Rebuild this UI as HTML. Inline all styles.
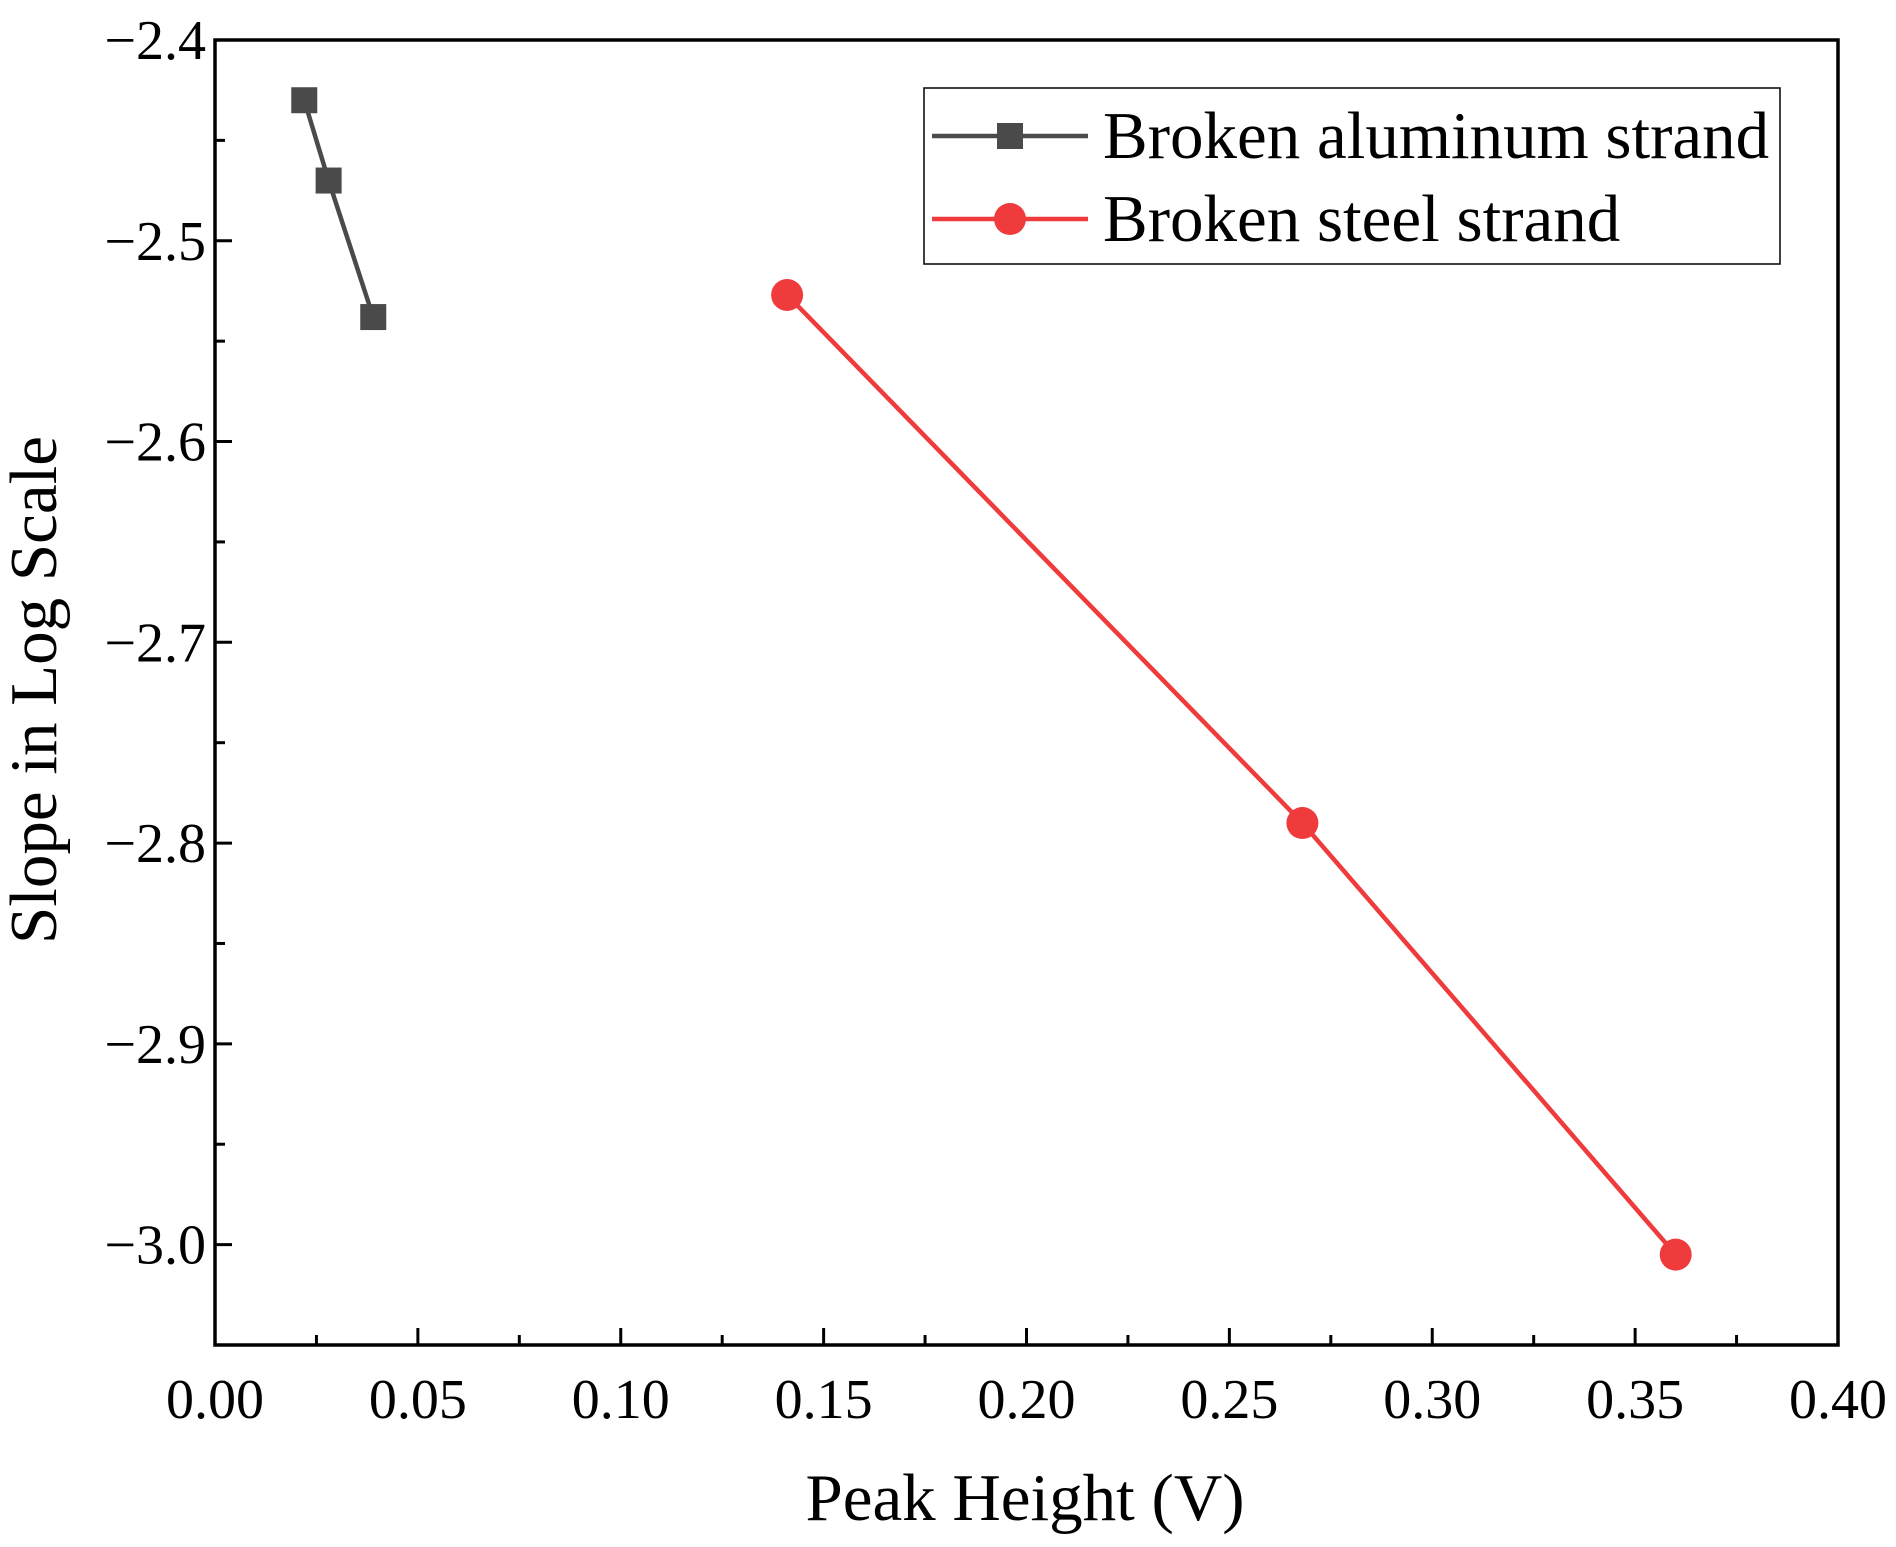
<!DOCTYPE html>
<html><head><meta charset="utf-8"><style>
html,body{margin:0;padding:0;background:#fff;}
svg{display:block;font-family:"Liberation Serif",serif;}
</style></head><body>
<svg id="chart" width="1896" height="1547" xmlns="http://www.w3.org/2000/svg">
<g id="grid"></g>
<g id="marks"></g>
<g>
<rect x="924" y="88" width="856" height="176" fill="#fff" stroke="#000" stroke-width="1.5"/>
<line x1="932" y1="136" x2="1088" y2="136" stroke="#4a4a4a" stroke-width="4.5"/>
<rect x="997" y="123" width="26" height="26" fill="#4a4a4a"/>
<text x="1103" y="158" font-size="67">Broken aluminum strand</text>
<line x1="932" y1="219" x2="1088" y2="219" stroke="#ef3b3b" stroke-width="4.5"/>
<circle cx="1010" cy="219" r="16" fill="#ef3b3b"/>
<text x="1103" y="241" font-size="67">Broken steel strand</text>
</g>
<text x="1025" y="1520" font-size="67" text-anchor="middle">Peak Height (V)</text>
<text transform="translate(56,690) rotate(-90)" font-size="67" text-anchor="middle">Slope in Log Scale</text>
</svg>
<script>
const alX=[0.022,0.028,0.039];
const alY=[-2.43,-2.47,-2.538];
const stX=[0.141,0.268,0.360];
const stY=[-2.527,-2.79,-3.005];
const xTicks=[0,0.05,0.10,0.15,0.20,0.25,0.30,0.35,0.40];
const xTickLabels=["0.00","0.05","0.10","0.15","0.20","0.25","0.30","0.35","0.40"];
const yTicks=[-2.4,-2.5,-2.6,-2.7,-2.8,-2.9,-3.0];
const yTickLabels=["\u22122.4","\u22122.5","\u22122.6","\u22122.7","\u22122.8","\u22122.9","\u22123.0"];
const L=215,R=1838,T=40,B=1345,xmin=0,xmax=0.4,ymin=-3.05,ymax=-2.4;
const sx=v=>L+(v-xmin)/(xmax-xmin)*(R-L);
const sy=v=>B-(v-ymin)/(ymax-ymin)*(B-T);
const NS="http://www.w3.org/2000/svg";
function mk(p,tag,a){const e=document.createElementNS(NS,tag);for(const k in a)e.setAttribute(k,a[k]);p.appendChild(e);return e;}
const g=document.getElementById('grid');
const frame=mk(g,'rect',{x:L,y:T,width:R-L,height:B-T,fill:'none',stroke:'#000','stroke-width':3.5});


xTicks.forEach((v,i)=>{
  const x=sx(v);
  mk(g,'line',{x1:x,y1:B,x2:x,y2:B-17,stroke:'#000','stroke-width':3});
  if(i<xTicks.length-1){const xm=sx(v+0.025);mk(g,'line',{x1:xm,y1:B,x2:xm,y2:B-10,stroke:'#000','stroke-width':3});}
  const t=mk(g,'text',{x:x,y:1418,'font-size':56,'text-anchor':'middle'});
  t.textContent=xTickLabels[i];
  
  
});
yTicks.forEach((v,i)=>{
  const y=sy(v);
  mk(g,'line',{x1:L,y1:y,x2:L+17,y2:y,stroke:'#000','stroke-width':3});
  const ym=sy(v-0.05);mk(g,'line',{x1:L,y1:ym,x2:L+10,y2:ym,stroke:'#000','stroke-width':3});
  const t=mk(g,'text',{x:206,y:y+19,'font-size':56,'text-anchor':'end'});
  t.textContent=yTickLabels[i];
  
  
});
const m=document.getElementById('marks');
const pl1=mk(m,'polyline',{points:alX.map((x,i)=>sx(x)+','+sy(alY[i])).join(' '),fill:'none',stroke:'#4a4a4a','stroke-width':4.5});


alX.forEach((x,i)=>{
  const r=mk(m,'rect',{x:sx(x)-13,y:sy(alY[i])-13,width:26,height:26,fill:'#4a4a4a'});
  
  
});
const pl2=mk(m,'polyline',{points:stX.map((x,i)=>sx(x)+','+sy(stY[i])).join(' '),fill:'none',stroke:'#ef3b3b','stroke-width':4.5});


stX.forEach((x,i)=>{
  const c=mk(m,'circle',{cx:sx(x),cy:sy(stY[i]),r:16,fill:'#ef3b3b'});
  
  
});
</script>
</body></html>
